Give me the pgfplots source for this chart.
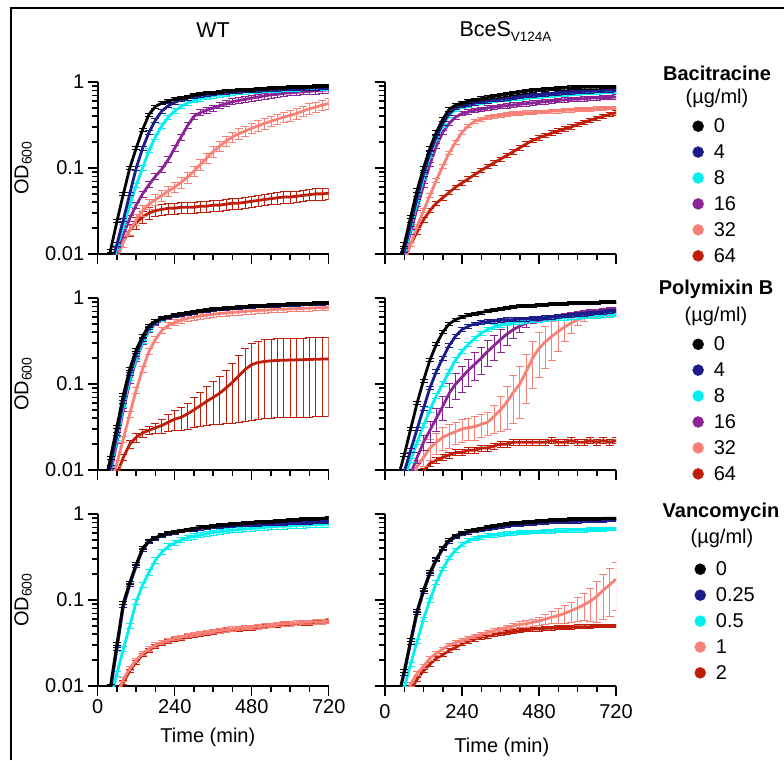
\documentclass[border=0pt]{standalone}
\usepackage{fontspec}
\setmainfont{Liberation Sans}
\usepackage{pgfplots}
\usepackage{pgfplotstable}
\pgfplotsset{compat=1.18}

\definecolor{cNavy}{RGB}{27,27,138}
\definecolor{cCyan}{RGB}{0,240,240}
\definecolor{cPurple}{RGB}{140,35,150}
\definecolor{cSalmon}{RGB}{248,128,118}
\definecolor{cRed}{RGB}{190,30,10}

\newcommand{\lbl}{\fontsize{20}{22}\selectfont}
\newcommand{\ttl}{\fontsize{21.5}{24}\selectfont}

% WT, bacitracine (0,4,8,16,32,64)
\pgfplotstableread{
t a b c d e f
20 0.005 0.004 0.004 0.004 0.004 0.004
40 0.011 0.007 0.006 0.007 0.006 0.006
60 0.024 0.013 0.012 0.011 0.009 0.009
80 0.050 0.025 0.021 0.017 0.014 0.014
100 0.10 0.050 0.037 0.026 0.019 0.019
120 0.17 0.10 0.063 0.037 0.025 0.023
140 0.28 0.17 0.10 0.050 0.032 0.027
160 0.42 0.26 0.16 0.064 0.038 0.030
180 0.52 0.36 0.23 0.080 0.043 0.032
200 0.57 0.46 0.31 0.097 0.048 0.033
220 0.60 0.53 0.39 0.125 0.054 0.034
240 0.63 0.58 0.46 0.17 0.060 0.034
260 0.65 0.62 0.52 0.23 0.068 0.035
280 0.68 0.65 0.57 0.31 0.078 0.035
300 0.70 0.68 0.61 0.40 0.092 0.035
320 0.72 0.70 0.64 0.44 0.11 0.036
340 0.74 0.72 0.67 0.47 0.13 0.036
360 0.75 0.73 0.69 0.50 0.155 0.037
380 0.77 0.75 0.71 0.53 0.18 0.037
400 0.78 0.76 0.73 0.56 0.205 0.038
420 0.79 0.77 0.75 0.59 0.23 0.039
440 0.80 0.78 0.76 0.61 0.25 0.039
460 0.81 0.79 0.77 0.63 0.27 0.040
480 0.82 0.80 0.78 0.65 0.29 0.041
500 0.83 0.80 0.79 0.67 0.31 0.042
520 0.84 0.81 0.80 0.69 0.33 0.043
540 0.85 0.82 0.81 0.71 0.35 0.044
560 0.85 0.82 0.81 0.72 0.37 0.045
580 0.86 0.83 0.82 0.74 0.39 0.046
600 0.87 0.83 0.83 0.75 0.41 0.046
620 0.87 0.84 0.83 0.76 0.43 0.047
640 0.88 0.84 0.84 0.77 0.46 0.048
660 0.88 0.85 0.84 0.78 0.49 0.049
680 0.89 0.85 0.85 0.79 0.51 0.050
700 0.89 0.86 0.85 0.80 0.54 0.050
720 0.90 0.86 0.86 0.81 0.56 0.051
}\tabA

% BceS V124A, bacitracine
\pgfplotstableread{
t a b c d e f
20 0.004 0.004 0.004 0.004 0.003 0.004
40 0.007 0.006 0.006 0.006 0.005 0.006
60 0.013 0.011 0.010 0.010 0.008 0.009
80 0.027 0.022 0.020 0.018 0.013 0.013
100 0.055 0.045 0.040 0.034 0.021 0.018
120 0.10 0.085 0.078 0.063 0.032 0.025
140 0.17 0.15 0.14 0.11 0.048 0.032
160 0.26 0.23 0.22 0.18 0.072 0.039
180 0.37 0.33 0.31 0.26 0.105 0.045
200 0.48 0.43 0.41 0.33 0.15 0.052
220 0.54 0.50 0.48 0.39 0.20 0.060
240 0.57 0.53 0.52 0.43 0.26 0.067
260 0.60 0.55 0.54 0.45 0.31 0.075
280 0.62 0.57 0.56 0.47 0.35 0.084
300 0.64 0.59 0.58 0.48 0.37 0.094
320 0.66 0.60 0.59 0.50 0.39 0.104
340 0.68 0.62 0.61 0.51 0.40 0.115
360 0.70 0.63 0.62 0.52 0.41 0.127
380 0.72 0.65 0.63 0.53 0.42 0.14
400 0.74 0.66 0.64 0.54 0.43 0.155
420 0.76 0.67 0.65 0.55 0.43 0.172
440 0.78 0.69 0.66 0.56 0.44 0.19
460 0.80 0.70 0.67 0.57 0.44 0.21
480 0.81 0.71 0.68 0.58 0.45 0.225
500 0.82 0.72 0.69 0.59 0.45 0.24
520 0.83 0.73 0.70 0.60 0.46 0.255
540 0.84 0.74 0.71 0.61 0.46 0.27
560 0.85 0.75 0.72 0.62 0.47 0.285
580 0.86 0.76 0.73 0.63 0.47 0.30
600 0.86 0.77 0.74 0.63 0.48 0.32
620 0.87 0.78 0.75 0.64 0.48 0.34
640 0.87 0.78 0.76 0.65 0.48 0.36
660 0.87 0.79 0.76 0.65 0.49 0.38
680 0.88 0.80 0.77 0.66 0.49 0.40
700 0.88 0.80 0.77 0.66 0.50 0.42
720 0.88 0.81 0.78 0.67 0.50 0.44
}\tabB

% WT, polymixin B
\pgfplotstableread{
t a b c d e f ef
20 0.006 0.005 0.004 0.004 0.004 0.004 0.0003
40 0.014 0.011 0.010 0.009 0.007 0.006 0.0005
60 0.032 0.026 0.023 0.021 0.012 0.009 0.0008
80 0.075 0.062 0.055 0.050 0.023 0.014 0.001
100 0.15 0.13 0.115 0.105 0.045 0.020 0.002
120 0.25 0.22 0.20 0.19 0.085 0.024 0.003
140 0.36 0.33 0.31 0.30 0.15 0.027 0.003
160 0.48 0.45 0.43 0.42 0.24 0.029 0.003
180 0.54 0.52 0.51 0.50 0.33 0.031 0.004
200 0.58 0.57 0.56 0.55 0.42 0.033 0.006
220 0.61 0.60 0.60 0.59 0.48 0.036 0.008
240 0.63 0.62 0.63 0.62 0.52 0.039 0.010
260 0.65 0.64 0.65 0.64 0.55 0.041 0.012
280 0.67 0.66 0.67 0.66 0.58 0.045 0.015
300 0.69 0.68 0.69 0.68 0.60 0.050 0.019
320 0.71 0.70 0.71 0.70 0.62 0.056 0.024
340 0.72 0.71 0.72 0.71 0.63 0.063 0.030
360 0.74 0.73 0.74 0.73 0.65 0.070 0.036
380 0.75 0.74 0.75 0.74 0.66 0.078 0.044
400 0.76 0.75 0.76 0.75 0.67 0.090 0.055
420 0.77 0.76 0.77 0.76 0.68 0.105 0.070
440 0.78 0.77 0.78 0.77 0.69 0.125 0.089
460 0.79 0.78 0.79 0.78 0.70 0.148 0.111
480 0.80 0.79 0.80 0.79 0.71 0.168 0.130
500 0.81 0.80 0.81 0.80 0.72 0.178 0.139
520 0.82 0.81 0.82 0.81 0.72 0.183 0.143
540 0.83 0.82 0.83 0.82 0.73 0.186 0.146
560 0.83 0.82 0.83 0.82 0.74 0.188 0.147
580 0.84 0.83 0.84 0.83 0.74 0.189 0.148
600 0.85 0.84 0.85 0.84 0.75 0.190 0.149
620 0.85 0.84 0.85 0.84 0.75 0.191 0.150
640 0.86 0.85 0.86 0.85 0.76 0.192 0.151
660 0.86 0.85 0.86 0.85 0.76 0.193 0.152
680 0.87 0.86 0.87 0.86 0.77 0.194 0.152
700 0.87 0.86 0.87 0.86 0.77 0.195 0.153
720 0.88 0.87 0.88 0.87 0.78 0.195 0.153
}\tabC

% BceS V124A, polymixin B
\pgfplotstableread{
t a b c d e f ed ee
20 0.004 0.003 0.003 0.003 0.003 0.003 0.0002 0.0002
40 0.008 0.006 0.005 0.004 0.004 0.004 0.0003 0.0003
60 0.015 0.0095 0.008 0.006 0.006 0.005 0.0005 0.0005
80 0.030 0.017 0.013 0.009 0.008 0.006 0.001 0.0008
100 0.060 0.030 0.021 0.014 0.011 0.008 0.002 0.002
120 0.11 0.052 0.033 0.021 0.014 0.0097 0.004 0.003
140 0.19 0.090 0.050 0.029 0.018 0.012 0.008 0.005
160 0.29 0.14 0.073 0.040 0.021 0.013 0.012 0.006
180 0.40 0.20 0.10 0.055 0.024 0.014 0.017 0.007
200 0.50 0.28 0.14 0.078 0.026 0.015 0.025 0.008
220 0.56 0.36 0.19 0.10 0.028 0.016 0.033 0.008
240 0.60 0.43 0.24 0.12 0.030 0.016 0.040 0.009
260 0.63 0.47 0.29 0.145 0.031 0.017 0.050 0.009
280 0.66 0.50 0.34 0.17 0.032 0.017 0.060 0.010
300 0.68 0.52 0.39 0.20 0.034 0.018 0.070 0.010
320 0.70 0.53 0.43 0.24 0.036 0.018 0.080 0.011
340 0.72 0.54 0.46 0.28 0.042 0.019 0.090 0.015
360 0.74 0.55 0.49 0.33 0.050 0.020 0.100 0.022
380 0.76 0.56 0.51 0.38 0.062 0.020 0.100 0.032
400 0.78 0.56 0.52 0.43 0.080 0.021 0.090 0.045
420 0.80 0.57 0.53 0.47 0.10 0.021 0.070 0.060
440 0.81 0.57 0.54 0.51 0.14 0.021 0.050 0.080
460 0.82 0.58 0.55 0.54 0.20 0.021 0.030 0.11
480 0.83 0.58 0.56 0.56 0.26 0.021 0.030 0.14
500 0.84 0.59 0.57 0.58 0.31 0.021 0.030 0.16
520 0.85 0.60 0.58 0.60 0.36 0.022 0.030 0.17
540 0.86 0.61 0.58 0.62 0.41 0.021 0.030 0.17
560 0.86 0.62 0.59 0.64 0.46 0.021 0.030 0.15
580 0.87 0.63 0.60 0.65 0.51 0.022 0.030 0.12
600 0.87 0.64 0.60 0.67 0.56 0.021 0.030 0.08
620 0.88 0.65 0.61 0.68 0.59 0.021 0.030 0.05
640 0.88 0.66 0.62 0.70 0.61 0.022 0.030 0.035
660 0.88 0.67 0.62 0.71 0.62 0.021 0.030 0.030
680 0.89 0.68 0.63 0.72 0.63 0.022 0.030 0.030
700 0.89 0.70 0.64 0.74 0.64 0.021 0.030 0.030
720 0.89 0.71 0.65 0.75 0.65 0.022 0.030 0.030
}\tabD

% WT, vancomycin (0,0.25,0.5,1,2)
\pgfplotstableread{
t a b c e f
20 0.005 0.005 0.004 0.003 0.003
40 0.010 0.009 0.007 0.005 0.005
60 0.031 0.027 0.014 0.008 0.0075
80 0.093 0.085 0.027 0.012 0.011
100 0.16 0.15 0.050 0.016 0.015
120 0.26 0.25 0.095 0.020 0.019
140 0.40 0.38 0.15 0.024 0.023
160 0.49 0.48 0.21 0.027 0.026
180 0.53 0.52 0.29 0.030 0.029
200 0.57 0.56 0.36 0.032 0.031
220 0.60 0.59 0.42 0.034 0.033
240 0.62 0.61 0.46 0.036 0.035
260 0.64 0.63 0.50 0.037 0.036
280 0.66 0.65 0.53 0.039 0.038
300 0.68 0.66 0.55 0.040 0.039
320 0.70 0.68 0.57 0.041 0.040
340 0.71 0.69 0.59 0.042 0.041
360 0.73 0.70 0.61 0.043 0.042
380 0.74 0.71 0.62 0.044 0.043
400 0.75 0.72 0.64 0.045 0.044
420 0.76 0.73 0.65 0.046 0.045
440 0.77 0.74 0.66 0.047 0.046
460 0.78 0.74 0.67 0.048 0.047
480 0.79 0.75 0.68 0.048 0.047
500 0.80 0.75 0.69 0.049 0.048
520 0.81 0.76 0.70 0.050 0.049
540 0.82 0.76 0.71 0.051 0.050
560 0.83 0.77 0.72 0.052 0.051
580 0.84 0.77 0.72 0.053 0.052
600 0.85 0.78 0.73 0.053 0.052
620 0.86 0.78 0.74 0.054 0.053
640 0.87 0.79 0.74 0.055 0.054
660 0.88 0.79 0.75 0.055 0.054
680 0.88 0.80 0.75 0.056 0.055
700 0.89 0.80 0.76 0.056 0.055
720 0.90 0.81 0.76 0.057 0.056
}\tabE

% BceS V124A, vancomycin
\pgfplotstableread{
t a b c e f ee
20 0.004 0.004 0.003 0.003 0.003 0.0002
40 0.007 0.007 0.005 0.005 0.004 0.0003
60 0.015 0.014 0.0095 0.007 0.006 0.0004
80 0.034 0.032 0.018 0.0105 0.009 0.0006
100 0.075 0.070 0.033 0.014 0.012 0.0008
120 0.13 0.125 0.060 0.017 0.015 0.001
140 0.21 0.20 0.10 0.021 0.018 0.001
160 0.30 0.29 0.16 0.024 0.021 0.0012
180 0.40 0.39 0.23 0.027 0.023 0.0014
200 0.50 0.48 0.31 0.030 0.026 0.0015
220 0.56 0.54 0.38 0.032 0.028 0.0016
240 0.60 0.58 0.44 0.034 0.031 0.0017
260 0.63 0.61 0.49 0.036 0.033 0.0018
280 0.66 0.63 0.52 0.038 0.035 0.0019
300 0.68 0.65 0.54 0.040 0.037 0.002
320 0.70 0.67 0.56 0.042 0.038 0.002
340 0.72 0.69 0.57 0.044 0.040 0.0022
360 0.74 0.71 0.58 0.046 0.041 0.0025
380 0.76 0.72 0.59 0.048 0.042 0.003
400 0.78 0.74 0.60 0.050 0.043 0.0035
420 0.79 0.75 0.61 0.052 0.044 0.004
440 0.81 0.76 0.61 0.053 0.045 0.0045
460 0.82 0.77 0.62 0.055 0.046 0.005
480 0.83 0.78 0.62 0.057 0.046 0.006
500 0.84 0.79 0.63 0.060 0.047 0.008
520 0.85 0.80 0.63 0.063 0.047 0.010
540 0.86 0.81 0.64 0.066 0.048 0.013
560 0.86 0.81 0.64 0.070 0.048 0.016
580 0.87 0.82 0.65 0.075 0.048 0.020
600 0.87 0.82 0.65 0.081 0.049 0.025
620 0.88 0.83 0.65 0.088 0.049 0.030
640 0.88 0.83 0.66 0.097 0.049 0.040
660 0.88 0.84 0.66 0.11 0.050 0.055
680 0.89 0.84 0.66 0.13 0.050 0.070
700 0.89 0.85 0.67 0.15 0.050 0.085
720 0.89 0.85 0.67 0.175 0.050 0.100
}\tabF

\pgfplotsset{
  odpanel/.style={
    scale only axis, width=231pt, height=172pt,
    xmin=0, xmax=720, ymin=0.01, ymax=1,
    axis x line*=bottom, axis y line*=left,
    axis line style={line width=1.8pt,-},
    xtick={0,240,480,720},
    minor xtick={60,120,180,300,360,420,540,600,660},
    ytick={0.01,0.1,1},
    minor ytick={0.02,0.03,0.04,0.05,0.06,0.07,0.08,0.09,0.2,0.3,0.4,0.5,0.6,0.7,0.8,0.9},
    tick align=outside,
    major tick length=10pt, minor tick length=6pt,
    tick style={line width=1.5pt, black},
    xticklabels={}, yticklabels={},
    tick label style={font=\lbl},
    label style={font=\lbl},
    ylabel style={at={(axis description cs:-0.323,0.5)}, anchor=center},
  },
  odleft/.style={yticklabels={0.01,0.1,1}, ylabel={OD\textsubscript{600}}},
  oddots/.style={
    legend image code/.code={\fill[##1] (0pt,0pt) circle (5.5pt);},
    legend cell align=left,
    legend style={at={(axis description cs:#1)}, anchor=north west,
      draw=none, fill=none, inner sep=0pt, outer sep=0pt, font=\lbl,
      row sep=10.5pt, column sep=10pt, nodes={inner sep=0pt}},
  },
  odcurve/.style={forget plot, line width=2.8pt, line join=round},
  odeb/.style={error bars/.cd, y dir=both, y fixed relative=#1,
    error mark=-,
    error bar style={line width=0.8pt},
    error mark options={rotate=90, mark size=4pt, line width=0.8pt}},
  odebx/.style={error bars/.cd, y dir=both, y explicit,
    error mark=-,
    error bar style={line width=0.8pt},
    error mark options={rotate=90, mark size=4pt, line width=0.8pt}},
}

\begin{document}
\begin{tikzpicture}
\useasboundingbox (0pt,-760pt) rectangle (784pt,0pt);
\draw[line width=2pt] (11pt,-760pt) -- (11pt,-8pt) -- (784pt,-8pt);

\node[font=\ttl] at (213pt,-30pt) {WT};
\node[font=\ttl, anchor=base west] at (456pt,-37pt) {BceS\raisebox{-5pt}{\fontsize{13.5}{15}\selectfont V124A}};

\node[font=\bfseries\lbl] at (717pt,-73pt) {Bacitracine};
\node[font=\lbl] at (717pt,-98pt) {(µg/ml)};
\node[font=\bfseries\lbl] at (716pt,-289pt) {Polymixin B};
\node[font=\lbl] at (716pt,-316pt) {(µg/ml)};
\node[font=\bfseries\lbl] at (721pt,-512pt) {Vancomycin};
\node[font=\lbl] at (722pt,-538pt) {(µg/ml)};

% row 1
\begin{semilogyaxis}[odpanel, odleft, at={(97.7pt,-254pt)}, anchor=south west]
\addplot[odcurve, cRed, odeb=0.15] table[x=t,y=f]{\tabA};
\addplot[odcurve, cSalmon, odeb=0.14] table[x=t,y=e]{\tabA};
\addplot[odcurve, cPurple, odeb=0.08] table[x=t,y=d]{\tabA};
\addplot[odcurve, cCyan, odeb=0.06] table[x=t,y=c]{\tabA};
\addplot[odcurve, cNavy, odeb=0.05] table[x=t,y=b]{\tabA};
\addplot[odcurve, black, odeb=0.04] table[x=t,y=a]{\tabA};
\end{semilogyaxis}

\begin{semilogyaxis}[odpanel, oddots={1.331,0.788}, at={(385pt,-254pt)}, anchor=south west]
\addplot[odcurve, cRed, odeb=0.06] table[x=t,y=f]{\tabB};
\addplot[odcurve, cSalmon, odeb=0.05] table[x=t,y=e]{\tabB};
\addplot[odcurve, cPurple, odeb=0.06] table[x=t,y=d]{\tabB};
\addplot[odcurve, cCyan, odeb=0.05] table[x=t,y=c]{\tabB};
\addplot[odcurve, cNavy, odeb=0.05] table[x=t,y=b]{\tabB};
\addplot[odcurve, black, odeb=0.05] table[x=t,y=a]{\tabB};
\addlegendimage{black}\addlegendentry{0}
\addlegendimage{cNavy}\addlegendentry{4}
\addlegendimage{cCyan}\addlegendentry{8}
\addlegendimage{cPurple}\addlegendentry{16}
\addlegendimage{cSalmon}\addlegendentry{32}
\addlegendimage{cRed}\addlegendentry{64}
\end{semilogyaxis}

% row 2
\begin{semilogyaxis}[odpanel, odleft, at={(97.7pt,-470pt)}, anchor=south west]
\addplot[odcurve, cRed, odebx] table[x=t,y=f,y error=ef]{\tabC};
\addplot[odcurve, cSalmon, odeb=0.08] table[x=t,y=e]{\tabC};
\addplot[odcurve, cPurple, odeb=0.04] table[x=t,y=d]{\tabC};
\addplot[odcurve, cCyan, odeb=0.04] table[x=t,y=c]{\tabC};
\addplot[odcurve, cNavy, odeb=0.04] table[x=t,y=b]{\tabC};
\addplot[odcurve, black, odeb=0.04] table[x=t,y=a]{\tabC};
\end{semilogyaxis}

\begin{semilogyaxis}[odpanel, oddots={1.331,0.776}, at={(385pt,-470pt)}, anchor=south west]
\addplot[odcurve, cRed, odeb=0.08] table[x=t,y=f]{\tabD};
\addplot[odcurve, cSalmon, odebx] table[x=t,y=e,y error=ee]{\tabD};
\addplot[odcurve, cPurple, odebx] table[x=t,y=d,y error=ed]{\tabD};
\addplot[odcurve, cCyan, odeb=0.06] table[x=t,y=c]{\tabD};
\addplot[odcurve, cNavy, odeb=0.05] table[x=t,y=b]{\tabD};
\addplot[odcurve, black, odeb=0.04] table[x=t,y=a]{\tabD};
\addlegendimage{black}\addlegendentry{0}
\addlegendimage{cNavy}\addlegendentry{4}
\addlegendimage{cCyan}\addlegendentry{8}
\addlegendimage{cPurple}\addlegendentry{16}
\addlegendimage{cSalmon}\addlegendentry{32}
\addlegendimage{cRed}\addlegendentry{64}
\end{semilogyaxis}

% row 3
\begin{semilogyaxis}[odpanel, odleft, at={(97.7pt,-686pt)}, anchor=south west,
  xticklabels={0,240,480,720}, xlabel={Time (min)},
  xlabel style={at={(axis description cs:0.477,-0.297)}, anchor=center}]
\addplot[odcurve, cRed, odeb=0.05] table[x=t,y=f]{\tabE};
\addplot[odcurve, cSalmon, odeb=0.06] table[x=t,y=e]{\tabE};
\addplot[odcurve, cCyan, odeb=0.07] table[x=t,y=c]{\tabE};
\addplot[odcurve, cNavy, odeb=0.04] table[x=t,y=b]{\tabE};
\addplot[odcurve, black, odeb=0.04] table[x=t,y=a]{\tabE};
\end{semilogyaxis}

\begin{semilogyaxis}[odpanel, oddots={1.340,0.724}, at={(385pt,-686pt)}, anchor=south west,
  xticklabels={0,240,480,720}, xticklabel style={yshift=-5pt}, xlabel={Time (min)},
  xlabel style={at={(axis description cs:0.506,-0.355)}, anchor=center}]
\addplot[odcurve, cRed, odeb=0.05] table[x=t,y=f]{\tabF};
\addplot[odcurve, cSalmon, odebx] table[x=t,y=e,y error=ee]{\tabF};
\addplot[odcurve, cCyan, odeb=0.05] table[x=t,y=c]{\tabF};
\addplot[odcurve, cNavy, odeb=0.04] table[x=t,y=b]{\tabF};
\addplot[odcurve, black, odeb=0.04] table[x=t,y=a]{\tabF};
\addlegendimage{black}\addlegendentry{0}
\addlegendimage{cNavy}\addlegendentry{0.25}
\addlegendimage{cCyan}\addlegendentry{0.5}
\addlegendimage{cSalmon}\addlegendentry{1}
\addlegendimage{cRed}\addlegendentry{2}
\end{semilogyaxis}
\end{tikzpicture}
\end{document}
